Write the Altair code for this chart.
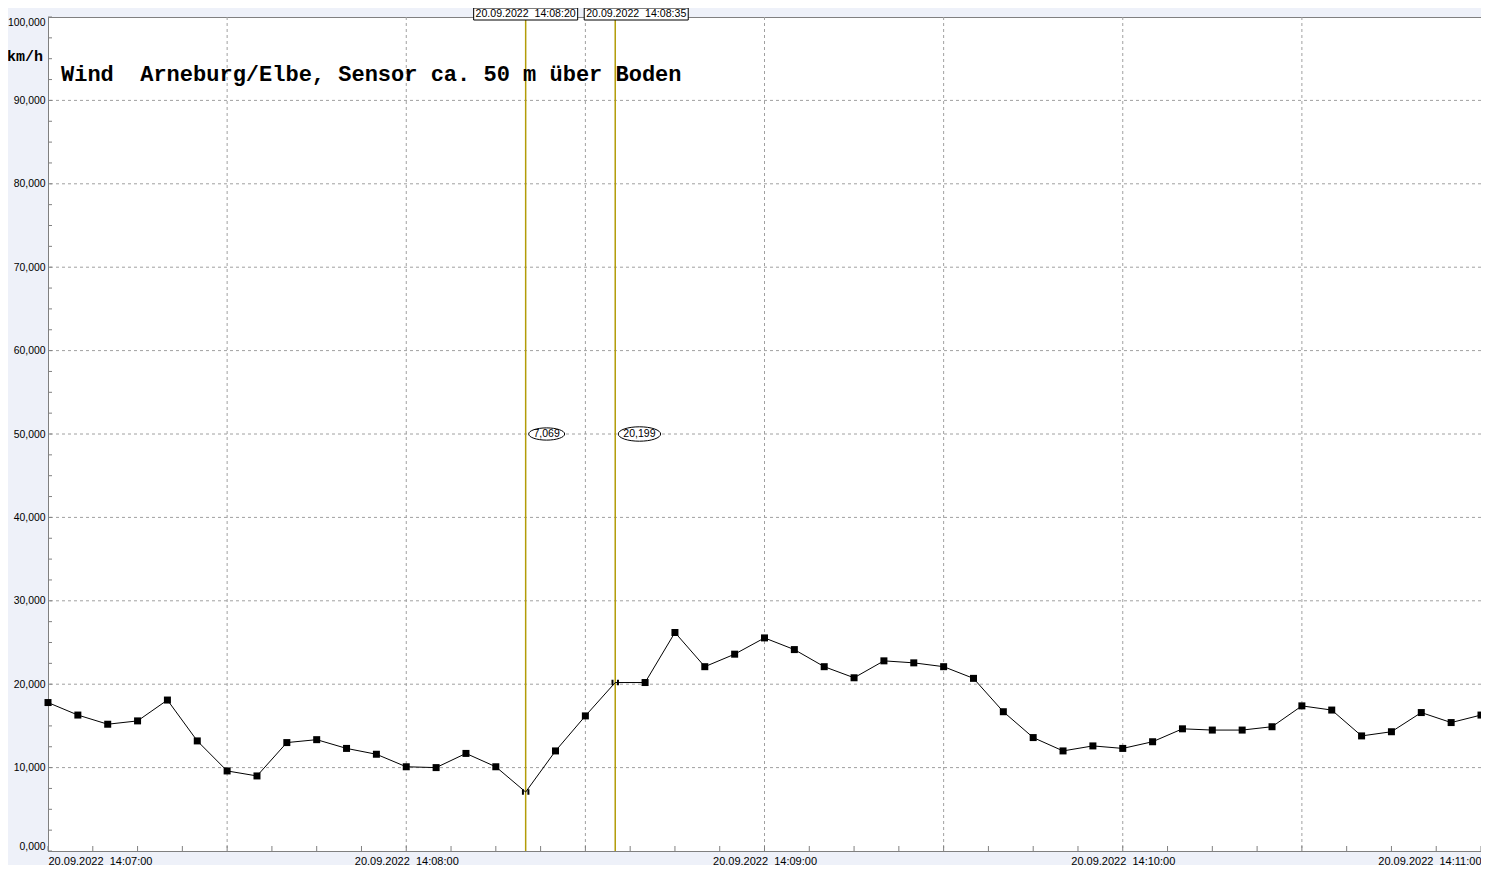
import altair as alt
import pandas as pd
from datetime import datetime, timezone, timedelta

# ---------------- data ----------------
start = datetime(2022, 9, 20, 14, 7, 0, tzinfo=timezone.utc)

speed = [17.8, 16.3, 15.2, 15.6, 18.1, 13.2, 9.6, 9.0, 13.0, 13.35, 12.3, 11.6, 10.1, 10.0, 11.7, 10.1,
         7.069, 12.0, 16.2, 20.199, 20.2, 26.2, 22.1, 23.6, 25.55, 24.15, 22.1, 20.77, 22.8, 22.56, 22.1, 20.7,
         16.7, 13.6, 12.0, 12.6, 12.3, 13.1, 14.65, 14.5, 14.5, 14.9, 17.4, 16.9, 13.8, 14.3, 16.6, 15.4, 16.3]
sample_seconds = list(range(0, 245, 5))  # one reading every 5 s
times = [(start + timedelta(seconds=s)).strftime("%Y-%m-%dT%H:%M:%SZ") for s in sample_seconds]

cursor_times = ["2022-09-20T14:08:20Z", "2022-09-20T14:08:35Z"]
cursor_values = [7.069, 20.199]
cursor_time_labels = ["20.09.2022\u00a0\u00a014:08:20", "20.09.2022\u00a0\u00a014:08:35"]
cursor_value_labels = ["7,069", "20,199"]
cursor_label_level = 50

x_grid_seconds = [30, 60, 90, 120, 150, 180, 210]
x_tick_seconds = [i * 7.5 for i in range(33)]
y_grid_values = [10, 20, 30, 40, 50, 60, 70, 80, 90]
y_tick_values = [i * 2.5 for i in range(41)]
y_label_values = [0, 10, 20, 30, 40, 50, 60, 70, 80, 90, 100]

title_text = "Wind\u00a0\u00a0Arneburg/Elbe, Sensor ca. 50 m über Boden"
unit_text = "km/h"

# ---------------- tables ----------------
def ms(sec):
    return int((start + timedelta(seconds=sec)).timestamp() * 1000)

df = pd.DataFrame({"time": times, "speed": speed})
df["cursor"] = df["time"].isin(cursor_times)
df_pts = df[~df["cursor"]]
df_cur_pts = df[df["cursor"]]

df_cursor = pd.DataFrame({"time": cursor_times, "value": cursor_values,
                          "tlabel": cursor_time_labels, "vlabel": cursor_value_labels,
                          "level": [cursor_label_level] * len(cursor_times)})
df_xgrid = pd.DataFrame({"t": [ms(s) for s in x_grid_seconds]})
df_xticks = pd.DataFrame({"t": [ms(s) for s in x_tick_seconds]})
df_ygrid = pd.DataFrame({"v": y_grid_values})
df_yticks = pd.DataFrame({"v": y_tick_values})

W, H = 1433, 834

x_scale = alt.Scale(type="utc", domain=[ms(0), ms(240)], nice=False)
y_scale = alt.Scale(domain=[0, 100], nice=False)

x_axis = alt.Axis(
    values=[ms(s) for s in [0, 60, 120, 180, 240]],
    labelExpr="utcFormat(datum.value, '%d.%m.%Y\u00a0\u00a0%H:%M:%S')",
    labelFlush=True, ticks=False, grid=False, title=None,
    labelFont="Liberation Sans", labelFontSize=11, labelColor="#000000",
    labelPadding=4, domainColor="#808080", labelOverlap=False,
)
y_axis = alt.Axis(
    values=y_label_values,
    labelExpr="replace(format(datum.value, '.3f'), '.', ',')",
    labelFlush=True, ticks=False, grid=False, title=None,
    labelFont="Liberation Sans", labelFontSize=10.4, labelColor="#000000",
    labelPadding=3, domainColor="#808080",
)

X = alt.X("time:T", scale=x_scale, axis=x_axis)
Y = alt.Y("speed:Q", scale=y_scale, axis=y_axis)

grid_style = dict(color="#a0a0a0", strokeDash=[3, 3], strokeWidth=1)

xgrid = alt.Chart(df_xgrid).mark_rule(**grid_style).encode(
    x=alt.X("t:T", scale=x_scale, axis=x_axis))
ygrid = alt.Chart(df_ygrid).mark_rule(**grid_style).encode(
    y=alt.Y("v:Q", scale=y_scale, axis=y_axis))

xticks = alt.Chart(df_xticks).mark_rule(color="#808080", strokeWidth=1).encode(
    x=alt.X("t:T", scale=x_scale, axis=x_axis),
    y=alt.value(H - 5), y2=alt.value(H))
yticks = alt.Chart(df_yticks).mark_rule(color="#808080", strokeWidth=1).encode(
    y=alt.Y("v:Q", scale=y_scale, axis=y_axis),
    x=alt.value(0), x2=alt.value(4))

line = alt.Chart(df).mark_line(color="#000000", strokeWidth=1).encode(x=X, y=Y)
squares = alt.Chart(df_pts).mark_square(size=49, color="#000000", opacity=1).encode(x=X, y=Y)
cur_marks = alt.Chart(df_cur_pts).mark_point(
    shape="M -1 -1 L -1 1 M 1 -1 L 1 1", size=30, filled=False,
    color="#000000", strokeWidth=2, opacity=1).encode(x=X, y=Y)

cursor_lines = alt.Chart(df_cursor).mark_rule(color="#B39C08", strokeWidth=1.5).encode(
    x=alt.X("time:T", scale=x_scale, axis=x_axis))

# time boxes above the plot: the second one is pushed right so they do not overlap
box_shift = [0, 21]
box_layers = []
for t, sh in zip(cursor_times, box_shift):
    d = df_cursor[df_cursor["time"] == t]
    box_layers.append(alt.Chart(d).mark_rect(
        fill="#ffffff", stroke="#000000", strokeWidth=1,
        xOffset=-52 + sh, x2Offset=52 + sh).encode(
        x=alt.X("time:T", scale=x_scale, axis=x_axis), x2=alt.X2("time:T"),
        y=alt.value(-9), y2=alt.value(3)))
    box_layers.append(alt.Chart(d).mark_text(
        font="Liberation Sans", fontSize=10.6, color="#000000", baseline="middle",
        align="center", dx=sh).encode(
        x=alt.X("time:T", scale=x_scale, axis=x_axis), y=alt.value(-3), text="tlabel:N"))

value_layers = []
for t, lab in zip(cursor_times, cursor_value_labels):
    half = 3.2 * len(lab) + 2
    d = df_cursor[df_cursor["time"] == t]
    ell = alt.Chart(d).mark_point(
        shape="M -1 0 A 1 0.34 0 1 1 1 0 A 1 0.34 0 1 1 -1 0 Z",
        size=(2 * half) ** 2, filled=True, fill="#ffffff", stroke="#000000",
        strokeWidth=1, opacity=1, xOffset=half + 3).encode(
        x=alt.X("time:T", scale=x_scale, axis=x_axis),
        y=alt.Y("level:Q", scale=y_scale, axis=y_axis))
    txt = alt.Chart(d).mark_text(
        font="Liberation Sans", fontSize=10.5, color="#000000", align="center",
        baseline="middle", dx=half + 3).encode(
        x=alt.X("time:T", scale=x_scale, axis=x_axis),
        y=alt.Y("level:Q", scale=y_scale, axis=y_axis), text="vlabel:N")
    value_layers += [ell, txt]

title = alt.Chart(pd.DataFrame({"t": [title_text]})).mark_text(
    font="Liberation Mono", fontWeight="bold", fontSize=22, color="#000000",
    align="left", baseline="alphabetic").encode(
    x=alt.value(13), y=alt.value(64), text="t:N")
unit = alt.Chart(pd.DataFrame({"t": [unit_text]})).mark_text(
    font="Liberation Mono", fontWeight="bold", fontSize=15, color="#000000",
    align="right", baseline="alphabetic").encode(
    x=alt.value(-5), y=alt.value(44), text="t:N")

chart = alt.layer(
    xgrid, ygrid, xticks, yticks, cursor_lines, line, squares, cur_marks,
    *value_layers, *box_layers, title, unit
).properties(
    width=W, height=H,
    padding={"left": 40, "top": 9, "right": 0, "bottom": 14},
    autosize=alt.AutoSizeParams(type="none"),
    background="#EEF1F9",
).configure_view(
    fill="#ffffff", stroke="#808080", strokeWidth=1
)

chart.save("out.html", embed_options={"renderer": "svg", "actions": False})
